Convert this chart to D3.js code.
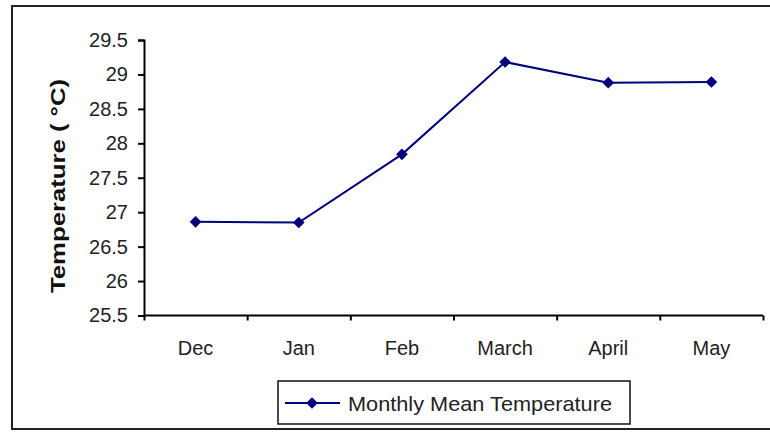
<!DOCTYPE html>
<html>
<head>
<meta charset="utf-8">
<script src="https://cdn.jsdelivr.net/npm/d3@7"></script>
<style>
  html, body { margin: 0; padding: 0; background: #fff; }
  svg { display: block; font-family: "Liberation Sans", Arial, sans-serif; }
</style>
</head>
<body>
<svg id="chart" width="770" height="432"></svg>
<script>
// Monthly mean temperature, December to May
const months = ["Dec", "Jan", "Feb", "March", "April", "May"];
const meanTemp = [26.86, 26.85, 27.84, 29.18, 28.88, 28.89];
const yTicks = [25.5, 26, 26.5, 27, 27.5, 28, 28.5, 29, 29.5];
const seriesName = "Monthly Mean Temperature";
const yTitle = "Temperature (  \u00B0C)";

const svg = d3.select("#chart");
const navy = "#000080";
const plot = { left: 144, right: 763, top: 40, bottom: 315.5 };

// outer chart frame
svg.append("rect")
  .attr("x", 12).attr("y", 6)
  .attr("width", 800).attr("height", 423)
  .attr("fill", "#fff")
  .attr("stroke", "#222").attr("stroke-width", 2);

const x = d3.scaleBand().domain(months).range([plot.left, plot.right]).padding(0);
const xEdges = d3.scaleLinear().domain([0, months.length]).range([plot.left, plot.right]);
const y = d3.scaleLinear().domain([25.5, 29.5]).range([plot.bottom, plot.top]);

// y axis
const yAxis = svg.append("g")
  .attr("transform", `translate(${plot.left},0)`)
  .call(d3.axisLeft(y).tickValues(yTicks).tickSize(6).tickPadding(10)
    .tickFormat(d => String(d)));
yAxis.select(".domain").attr("stroke", "#000").attr("stroke-width", 2);
yAxis.selectAll(".tick line").attr("stroke", "#000").attr("stroke-width", 2);
yAxis.selectAll(".tick text")
  .attr("font-size", 20).attr("fill", "#222")
  .attr("font-family", "Liberation Sans, Arial, sans-serif");

// x axis: tick marks between categories
const xTickAxis = svg.append("g")
  .attr("transform", `translate(0,${plot.bottom})`)
  .call(d3.axisBottom(xEdges).tickValues(d3.range(0, months.length + 1))
    .tickSize(5).tickFormat(""));
xTickAxis.select(".domain").attr("stroke", "#000").attr("stroke-width", 2)
  .attr("d", `M${plot.left},0H${plot.right}`);
xTickAxis.selectAll(".tick line").attr("stroke", "#000").attr("stroke-width", 2);

// x axis: category labels centred in each band
const xLabelAxis = svg.append("g")
  .attr("transform", `translate(0,${plot.bottom})`)
  .call(d3.axisBottom(x).tickSize(0).tickPadding(25));
xLabelAxis.select(".domain").remove();
xLabelAxis.selectAll(".tick text")
  .attr("font-size", 20).attr("fill", "#222")
  .attr("font-family", "Liberation Sans, Arial, sans-serif");

// y axis title
svg.append("text")
  .attr("transform", `translate(57,186) rotate(-90)`)
  .attr("text-anchor", "middle")
  .attr("dominant-baseline", "central")
  .attr("font-size", 21).attr("font-weight", "bold").attr("fill", "#111")
  .attr("textLength", 214).attr("lengthAdjust", "spacingAndGlyphs")
  .text(yTitle);

// series line
const points = months.map((m, i) => ({ m, v: meanTemp[i] }));
const line = d3.line().x(d => x(d.m) + x.bandwidth() / 2).y(d => y(d.v));
svg.append("path")
  .datum(points)
  .attr("fill", "none")
  .attr("stroke", navy)
  .attr("stroke-width", 2)
  .attr("d", line);

// diamond markers
svg.selectAll(".marker")
  .data(points)
  .join("path")
  .attr("class", "marker")
  .attr("transform", d => `translate(${x(d.m) + x.bandwidth() / 2},${y(d.v)}) rotate(45)`)
  .attr("d", d3.symbol().type(d3.symbolSquare).size(68))
  .attr("fill", navy);

// legend
const legend = svg.append("g");
legend.append("rect")
  .attr("x", 278).attr("y", 381).attr("width", 352).attr("height", 43)
  .attr("fill", "#fff").attr("stroke", "#111").attr("stroke-width", 1.5);
legend.append("line")
  .attr("x1", 285).attr("x2", 340).attr("y1", 403).attr("y2", 403)
  .attr("stroke", navy).attr("stroke-width", 2);
legend.append("path")
  .attr("transform", "translate(312,403) rotate(45)")
  .attr("d", d3.symbol().type(d3.symbolSquare).size(68))
  .attr("fill", navy);
legend.append("text")
  .attr("x", 348).attr("y", 403)
  .attr("dominant-baseline", "central")
  .attr("font-size", 21).attr("fill", "#222")
  .attr("textLength", 264).attr("lengthAdjust", "spacingAndGlyphs")
  .text(seriesName);
</script>
</body>
</html>
